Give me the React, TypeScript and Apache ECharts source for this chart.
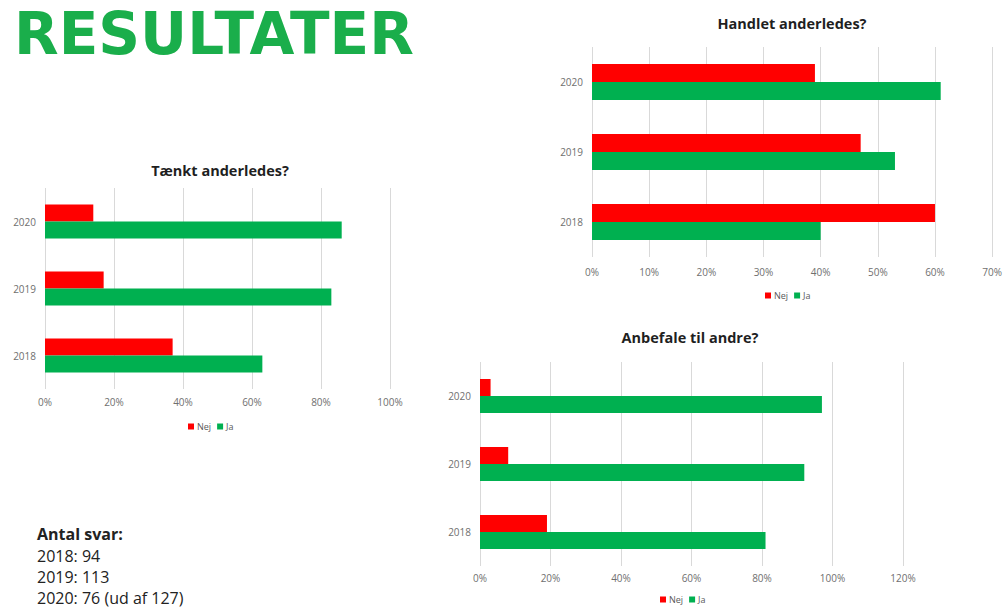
import React, { useEffect, useRef } from "react";
import * as echarts from "echarts";

const years = ["2018", "2019", "2020"];

const taenktNej = [37, 17, 14];
const taenktJa = [63, 83, 86];

const handletNej = [60, 47, 39];
const handletJa = [40, 53, 61];

const anbefaleNej = [19, 8, 3];
const anbefaleJa = [81, 92, 97];

const infoLines = ["2018: 94", "2019: 113", "2020: 76 (ud af 127)"];

const RED = "#ff0000";
const GREEN = "#00b050";
const FONT = "'Open Sans', sans-serif";

export default function App() {
  const ref = useRef<HTMLDivElement>(null);
  useEffect(() => {
    if (!ref.current) return;
    const chart = echarts.init(ref.current, null, { renderer: "svg" });

    const charts = [
      { title: "Tænkt anderledes?", nej: taenktNej, ja: taenktJa, max: 100, interval: 20,
        grid: { left: 45, top: 188, width: 345, height: 201 }, titleX: 215, titleY: 168, legendX: 213, legendY: 427, bw: 17, lm: 8 },
      { title: "Handlet anderledes?", nej: handletNej, ja: handletJa, max: 70, interval: 10,
        grid: { left: 592, top: 47, width: 408, height: 210 }, titleX: 787, titleY: 21, legendX: 790, legendY: 296, bw: 18, lm: 10 },
      { title: "Anbefale til andre?", nej: anbefaleNej, ja: anbefaleJa, max: 120, interval: 20,
        grid: { left: 480, top: 362, width: 423, height: 204 }, titleX: 685, titleY: 335, legendX: 685, legendY: 600, bw: 17, lm: 7 },
    ];

    const option: any = {
      animation: false,
      textStyle: { fontFamily: FONT },
      title: charts.map((c) => ({
        text: c.title,
        left: c.titleX,
        top: c.titleY - 10,
        textAlign: "center",
        textStyle: { fontSize: 14.5, fontWeight: "bold", color: "#1f1f1f", fontFamily: FONT },
      })),
      legend: charts.map((c) => ({
        data: ["Nej", "Ja"],
        left: c.legendX - 25,
        top: c.legendY - 5,
        icon: "rect",
        itemWidth: 6,
        itemHeight: 6,
        itemGap: 6,
        textStyle: { fontSize: 9, color: "#595959", padding: [0, 0, 0, -2] },
        padding: 0,
      })),
      grid: charts.map((c) => ({ ...c.grid, containLabel: false })),
      xAxis: charts.map((c, i) => ({
        type: "value",
        gridIndex: i,
        min: 0,
        max: c.max,
        interval: c.interval,
        axisLine: { show: false },
        axisTick: { show: false },
        splitLine: { show: true, lineStyle: { color: "#d9d9d9", width: 1 } },
        axisLabel: { formatter: "{value}%", fontSize: 10, color: "#6f6f6f", margin: c.lm },
      })),
      yAxis: charts.map((c, i) => ({
        type: "category",
        gridIndex: i,
        data: years,
        axisLine: { show: false },
        axisTick: { show: false },
        axisLabel: { fontSize: 10, color: "#6f6f6f", margin: 9 },
      })),
      series: charts.flatMap((c, i) => [
        { name: "Nej", type: "bar", xAxisIndex: i, yAxisIndex: i, data: c.nej, barWidth: c.bw, barGap: "0%", itemStyle: { color: RED } },
        { name: "Ja", type: "bar", xAxisIndex: i, yAxisIndex: i, data: c.ja, barWidth: c.bw, barGap: "0%", itemStyle: { color: GREEN } },
      ]),
      graphic: [
        {
          type: "text",
          x: 14,
          y: 34,
          style: { text: "RESULTATER", font: `bold 58px 'DejaVu Sans', sans-serif`, fill: "#1aae4b", textVerticalAlign: "middle" },
        },
        {
          type: "text",
          x: 37,
          y: 534,
          style: { text: "Antal svar:", font: `bold 16px ${FONT}`, fill: "#222", textVerticalAlign: "middle" },
        },
        ...infoLines.map((t, k) => ({
          type: "text",
          x: 37,
          y: 556 + k * 21,
          style: { text: t, font: `16px ${FONT}`, fill: "#222", textVerticalAlign: "middle" },
        })),
      ],
    };
    chart.setOption(option);
    return () => chart.dispose();
  }, []);
  return (
    <div
      ref={ref}
      style={{ position: "fixed", left: 0, top: 0, width: 1005, height: 608, background: "#fff" }}
    />
  );
}
